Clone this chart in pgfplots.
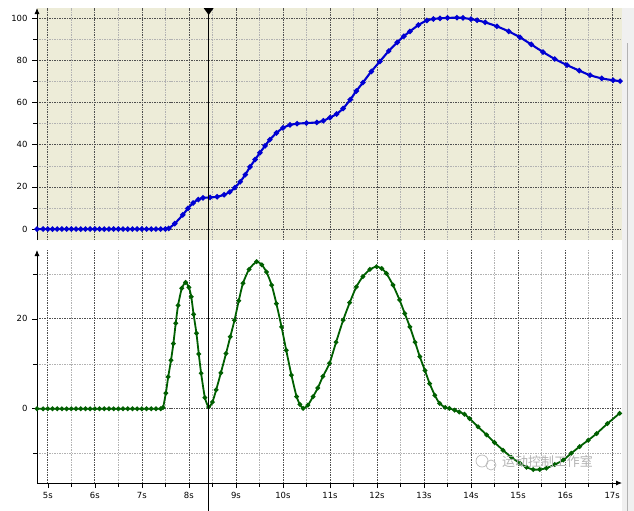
\documentclass[border=0pt]{standalone}
\usepackage{fontspec}
\setmainfont{DejaVu Sans}
\newfontfamily\cjk{Noto Sans CJK SC}
\usepackage{pgfplots}
\pgfplotsset{compat=1.18}
\usetikzlibrary{arrows.meta}
\definecolor{beige}{RGB}{237,236,216}
\definecolor{majgrid}{RGB}{80,80,80}
\definecolor{mingrid}{RGB}{178,178,178}
\definecolor{cblue}{RGB}{0,0,210}
\definecolor{cgreen}{RGB}{0,95,0}
\pgfplotsset{
 common/.style={
  scale only axis, width=585bp,
  xmin=4.77, xmax=17.21,
  xtick={5,6,...,17}, minor xtick={4.5,5.5,...,17.5},
  grid=both,
  major grid style={dash pattern=on 1.5pt off 1pt, majgrid, line width=0.7pt},
  minor grid style={dash pattern=on 1.5pt off 1pt, mingrid, line width=0.6pt},
  tick align=outside,
  major tick length=5bp, minor tick length=4bp,
  every tick/.style={black, line width=0.6pt},
  ticklabel style={font=\fontsize{8.5}{9}\selectfont},
  /pgf/number format/assume math mode=true,
  axis y line*=left, axis x line*=bottom,
  y axis line style={black, line width=0.8pt, -{Latex[length=6bp,width=5bp]}},
  yticklabel style={xshift=-1bp},
 }
}
\begin{document}
\begin{tikzpicture}
\useasboundingbox (0,0) rectangle (634bp,-511bp);
\fill[gray!12] (622bp,-8bp) rectangle (634bp,-511bp);
\draw[gray!60, line width=0.6pt] (627bp,-43bp) -- (627bp,-511bp);
% top panel
\begin{axis}[common,
  at={(37bp,-240bp)}, anchor=south west,
  height=232bp, ymin=-5.2, ymax=104.9,
  ytick={0,20,...,100}, minor ytick={10,30,...,90},
  axis background/.style={fill=beige},
  x axis line style={draw=none},
  xtick style={draw=none}, minor x tick style={draw=none},
  xticklabels={},
]
\addplot[cblue, line width=2.1pt, smooth, tension=0.4, mark=*, mark size=1.5pt] coordinates {
(4.77,0)(4.9,0)(5.0,0)(5.1,0)(5.2,0)(5.3,0)(5.4,0)(5.5,0)(5.6,0)(5.7,0)(5.8,0)(5.9,0)
(6.0,0)(6.1,0)(6.2,0)(6.3,0)(6.4,0)(6.5,0)(6.6,0)(6.7,0)(6.8,0)(6.9,0)
(7.0,0)(7.1,0)(7.2,0)(7.3,0)(7.4,0)(7.5,0)(7.57,0.3)
(7.70,2.6)(7.87,6.7)(7.98,9.8)(8.09,12.4)(8.20,14.0)(8.30,14.8)(8.45,15.0)(8.60,15.3)
(8.75,16.3)(8.87,17.6)(8.98,19.7)(9.09,22.4)(9.20,25.8)(9.30,29.5)(9.41,33.0)(9.51,36.2)
(9.62,39.5)(9.72,42.4)(9.86,45.6)(10.0,48.0)(10.15,49.4)(10.30,50.0)(10.50,50.3)(10.72,50.6)
(10.86,51.4)(11.0,52.9)(11.14,54.6)(11.28,57.2)(11.43,61.4)(11.56,65.5)(11.70,69.5)(11.88,74.8)
(12.06,79.5)(12.25,84.5)(12.43,88.6)(12.57,91.5)(12.70,93.8)(12.88,96.8)(13.06,99.0)(13.20,99.7)
(13.34,100)(13.5,100.2)(13.7,100.3)(13.83,100.2)(14.0,99.6)(14.13,99.1)(14.30,98.1)(14.55,96.2)
(14.80,93.8)(15.04,91.0)(15.28,87.6)(15.53,84.0)(15.78,80.7)(16.04,77.8)(16.30,75.2)(16.53,73.0)
(16.78,71.5)(17.02,70.6)(17.17,70.2)
};
\coordinate (curtop) at (axis cs:8.42,104.9);
\end{axis}
% bottom panel
\begin{axis}[common,
  at={(37bp,-483bp)}, anchor=south west,
  height=233bp, ymin=-16.5, ymax=35.3,
  ytick={0,20}, minor ytick={-10,10,30},
  x axis line style={black, line width=0.8pt, -{Latex[length=6bp,width=5bp]}},
  xticklabel={\pgfmathprintnumber{\tick}s},
  xticklabel style={yshift=-1bp},
]
\addplot[cgreen, line width=1.8pt, smooth, tension=0.4, mark=*, mark size=1.35pt] coordinates {
(4.77,0)(4.9,0)(5.0,0)(5.1,0)(5.2,0)(5.3,0)(5.4,0)(5.5,0)(5.6,0)(5.7,0)(5.8,0)(5.9,0)
(6.0,0)(6.1,0)(6.2,0)(6.3,0)(6.4,0)(6.5,0)(6.6,0)(6.7,0)(6.8,0)(6.9,0)
(7.0,0)(7.1,0)(7.2,0)(7.3,0)(7.4,0)(7.45,0.3)
(7.51,3.5)(7.56,7.1)(7.62,10.8)(7.67,14.5)(7.72,19.0)(7.77,23.0)(7.85,26.8)(7.93,28.1)
(8.00,27.0)(8.05,24.9)(8.10,21.0)(8.16,16.8)(8.21,12.2)(8.26,7.9)(8.34,2.5)(8.42,0.4)
(8.50,1.5)(8.58,4.2)(8.68,8.0)(8.79,12.3)(8.88,16.0)(8.97,19.7)(9.06,24.0)(9.15,27.9)
(9.28,31.0)(9.44,32.7)(9.55,32.0)(9.65,30.4)(9.76,27.5)(9.86,23.4)(9.97,18.2)(10.07,13.0)
(10.18,7.5)(10.29,2.7)(10.36,1.0)(10.43,0.1)(10.53,0.8)(10.64,2.7)(10.74,4.6)(10.85,7.2)
(10.99,10.1)(11.13,14.8)(11.28,19.7)(11.42,23.6)(11.56,27.1)(11.70,29.4)(11.85,31.0)(11.99,31.6)
(12.10,31.2)(12.20,30.1)(12.34,27.5)(12.48,24.2)(12.59,21.2)(12.70,18.2)(12.81,14.8)(12.91,11.6)
(13.02,8.5)(13.12,5.6)(13.23,3.0)(13.33,1.2)(13.45,0.3)(13.54,0.1)(13.65,-0.3)(13.75,-0.7)
(13.86,-1.2)(13.97,-2.2)(14.15,-4.0)(14.33,-5.8)(14.50,-7.5)(14.68,-9.2)(14.86,-10.8)(15.04,-12.1)
(15.18,-13.0)(15.32,-13.5)(15.46,-13.5)(15.60,-13.2)(15.78,-12.4)(15.96,-11.4)(16.13,-9.9)(16.31,-8.4)
(16.49,-7.0)(16.67,-5.5)(16.90,-3.3)(17.16,-1.0)
};
\end{axis}
% cursor
\draw[black, line width=0.8pt] (curtop) -- (curtop |- 0,-511bp);
\fill[black] ([xshift=-5bp]curtop) -- ([xshift=5bp]curtop) -- ([yshift=-7bp]curtop) -- cycle;
% watermark
\draw[gray!55, line width=0.7pt] (482bp,-461bp) circle (6bp);
\draw[gray!55, line width=0.7pt] (491bp,-465bp) circle (5bp);
\node[anchor=west, inner sep=0pt, text=gray!60, font=\cjk\fontsize{13}{13}\selectfont] at (502bp,-462bp) {运动控制工作室};
\end{tikzpicture}
\end{document}
